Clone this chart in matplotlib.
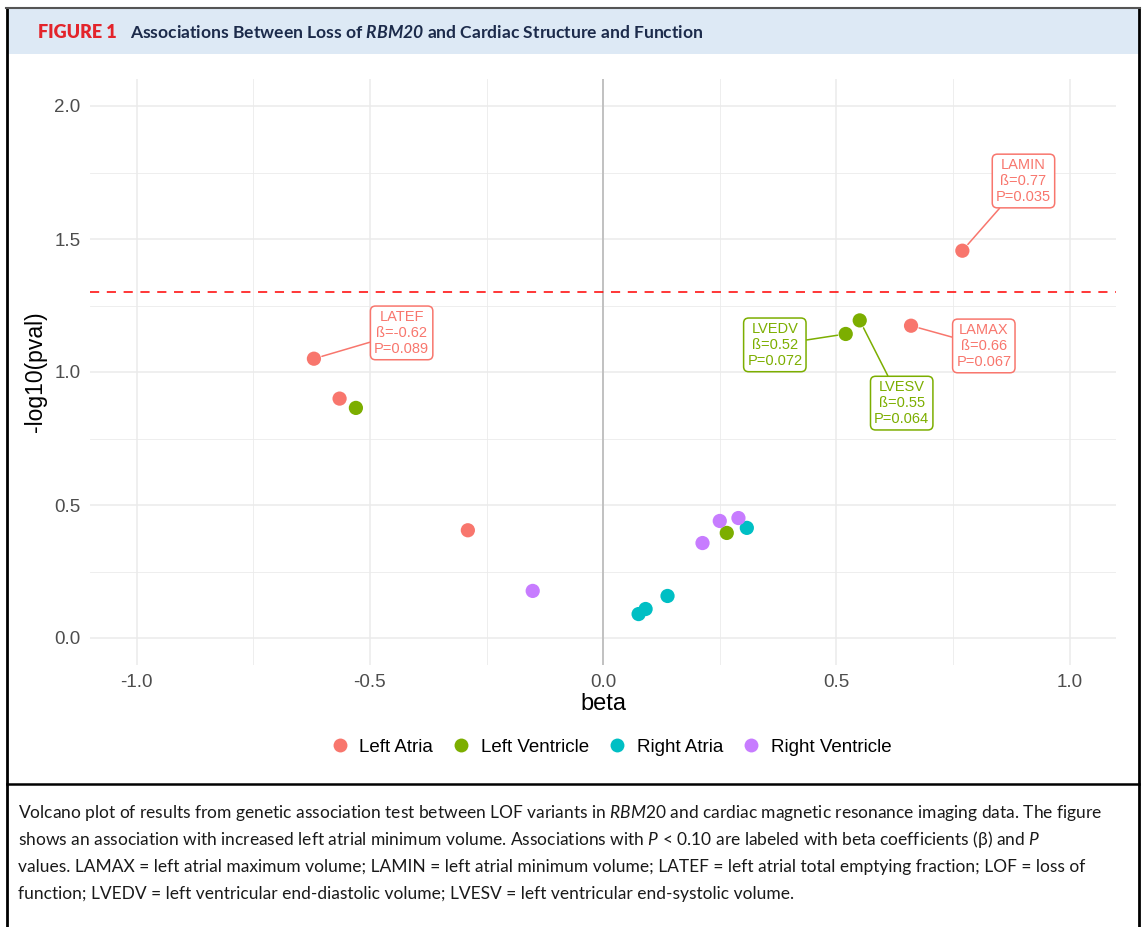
import numpy as np
import matplotlib
matplotlib.use("Agg")
import matplotlib.pyplot as plt
from matplotlib.lines import Line2D
from matplotlib.patches import Rectangle
from matplotlib.ticker import MultipleLocator

plt.rcParams['font.family'] = ['Liberation Sans', 'DejaVu Sans']
plt.rcParams['mathtext.fontset'] = 'custom'
plt.rcParams['mathtext.rm'] = 'Lato'
plt.rcParams['mathtext.it'] = 'Lato:italic'
plt.rcParams['mathtext.bf'] = 'Lato:bold'
plt.rcParams['mathtext.bfit'] = 'Lato:italic:bold'

# ---- data ---------------------------------------------------------------------
groups = ['Left Atria', 'Left Ventricle', 'Right Atria', 'Right Ventricle']
colors = ['#F8766D', '#7CAE00', '#00BFC4', '#C77CFF']

la_beta = [-0.62, -0.565, -0.29, 0.77, 0.66]
la_logp = [1.05, 0.90, 0.405, 1.456, 1.174]

lv_beta = [-0.53, 0.52, 0.55, 0.265]
lv_logp = [0.865, 1.143, 1.194, 0.395]

ra_beta = [0.076, 0.091, 0.138, 0.308]
ra_logp = [0.09, 0.109, 0.158, 0.414]

rv_beta = [-0.151, 0.213, 0.25, 0.29]
rv_logp = [0.177, 0.357, 0.44, 0.451]

# labelled associations (P < 0.10)
lab_names = ['LATEF', 'LAMIN', 'LAMAX', 'LVEDV', 'LVESV']
lab_beta = [-0.62, 0.77, 0.66, 0.52, 0.55]
lab_logp = [1.05, 1.456, 1.174, 1.143, 1.194]
lab_text_beta = ['-0.62', '0.77', '0.66', '0.52', '0.55']
lab_pval = ['0.089', '0.035', '0.067', '0.072', '0.064']
lab_group = [0, 0, 0, 1, 1]
lab_pos = [(-0.432, 1.147), (0.901, 1.718), (0.816, 1.098), (0.368, 1.102), (0.640, 0.883)]

sig_line = -np.log10(0.05)

# ---- figure --------------------------------------------------------------------
fig = plt.figure(figsize=(11.42, 9.27), dpi=100)
W, H = 1142, 927

def fx(px):
    return px / W

def fy(py):
    return 1 - py / H

# frame, header band, separator
fig.patches.append(Rectangle((fx(7), fy(54)), fx(1132), 45 / H, transform=fig.transFigure,
                             facecolor='#DDE9F5', edgecolor='none', zorder=0))
fig.add_artist(Line2D([fx(7), fx(7)], [fy(8), 0], color='black', lw=2, transform=fig.transFigure))
fig.add_artist(Line2D([fx(1139), fx(1139)], [fy(8), 0], color='black', lw=2, transform=fig.transFigure))
fig.add_artist(Line2D([fx(6), fx(1140)], [fy(8), fy(8)], color='#555555', lw=1.5, transform=fig.transFigure))
fig.add_artist(Line2D([fx(7), fx(1139)], [fy(784), fy(784)], color='black', lw=1.8, transform=fig.transFigure))

# title
fig.text(fx(38), fy(33), 'FIGURE 1', color='#E3242B', fontsize=13, fontweight='heavy',
         family='Lato', va='center')
fig.text(fx(130), fy(33), r'Associations Between Loss of $\mathbfit{RBM20}$ and Cardiac Structure and Function',
         color='#1C2B4B', fontsize=12.6, fontweight='bold', family='Lato', va='center')

# ---- main axes -----------------------------------------------------------------
ax = fig.add_axes([fx(90), fy(664.6), fx(1026.3), (664.6 - 79.4) / H])
ax.set_xlim(-1.1, 1.1)
ax.set_ylim(-0.1, 2.1)
ax.xaxis.set_major_locator(MultipleLocator(0.5))
ax.yaxis.set_major_locator(MultipleLocator(0.5))
ax.xaxis.set_minor_locator(MultipleLocator(0.25))
ax.yaxis.set_minor_locator(MultipleLocator(0.25))
ax.grid(which='major', color='#EBEBEB', lw=1.1)
ax.grid(which='minor', color='#EBEBEB', lw=0.6)
ax.set_axisbelow(True)
for s in ax.spines.values():
    s.set_visible(False)
ax.tick_params(which='both', length=0, labelsize=13.5, labelcolor='#4D4D4D', pad=7)
ax.xaxis.set_major_formatter(matplotlib.ticker.FormatStrFormatter('%.1f'))
ax.yaxis.set_major_formatter(matplotlib.ticker.FormatStrFormatter('%.1f'))
ax.set_xlabel('beta', fontsize=17, labelpad=1)
ax.set_ylabel('-log10(pval)', fontsize=16.5, labelpad=5)

ax.axvline(0, color='#BEBEBE', lw=1.3, zorder=1)
ax.axhline(sig_line, color='#FF0000', lw=1.1, ls=(0, (6, 5)), zorder=1)

all_beta = [la_beta, lv_beta, ra_beta, rv_beta]
all_logp = [la_logp, lv_logp, ra_logp, rv_logp]
for g, b, p, c in zip(groups, all_beta, all_logp, colors):
    ax.scatter(b, p, s=105, color=c, edgecolors='none', zorder=3, label=g)

for i in range(len(lab_names)):
    c = colors[lab_group[i]]
    tx, ty = lab_pos[i]
    ax.annotate(lab_names[i] + '\nß=' + lab_text_beta[i] + '\nP=' + lab_pval[i],
                xy=(lab_beta[i], lab_logp[i]), xytext=(tx, ty),
                ha='center', va='center', fontsize=10.5, color=c, linespacing=1.2,
                bbox=dict(boxstyle='round,pad=0.25,rounding_size=0.35', fc='white', ec=c, lw=1.1),
                arrowprops=dict(arrowstyle='-', color=c, lw=1.1, shrinkA=0, shrinkB=6),
                zorder=4)

# legend
handles = [Line2D([], [], marker='o', ls='none', markersize=10, color=c, markeredgewidth=0) for c in colors]
fig.legend(handles, groups, loc='center', bbox_to_anchor=(fx(611), fy(747)), ncol=4, frameon=False,
           fontsize=13.5, handletextpad=0.55, columnspacing=1.0, handlelength=1.0)

# ---- caption -------------------------------------------------------------------
cap_lines = [
    r'Volcano plot of results from genetic association test between LOF variants in $\mathit{RBM20}$ and cardiac magnetic resonance imaging data. The figure',
    r'shows an association with increased left atrial minimum volume. Associations with $\mathit{P}$ < 0.10 are labeled with beta coefficients (β) and $\mathit{P}$',
    'values. LAMAX = left atrial maximum volume; LAMIN = left atrial minimum volume; LATEF = left atrial total emptying fraction; LOF = loss of',
    'function; LVEDV = left ventricular end-diastolic volume; LVESV = left ventricular end-systolic volume.',
]
cap_y = [813, 840, 867, 894]
for line, y in zip(cap_lines, cap_y):
    fig.text(fx(18), fy(y), line, fontsize=12.5, family=['Lato', 'DejaVu Sans'], color='#1a1a1a', va='center')

fig.savefig('out.png', dpi=100, facecolor='white')
